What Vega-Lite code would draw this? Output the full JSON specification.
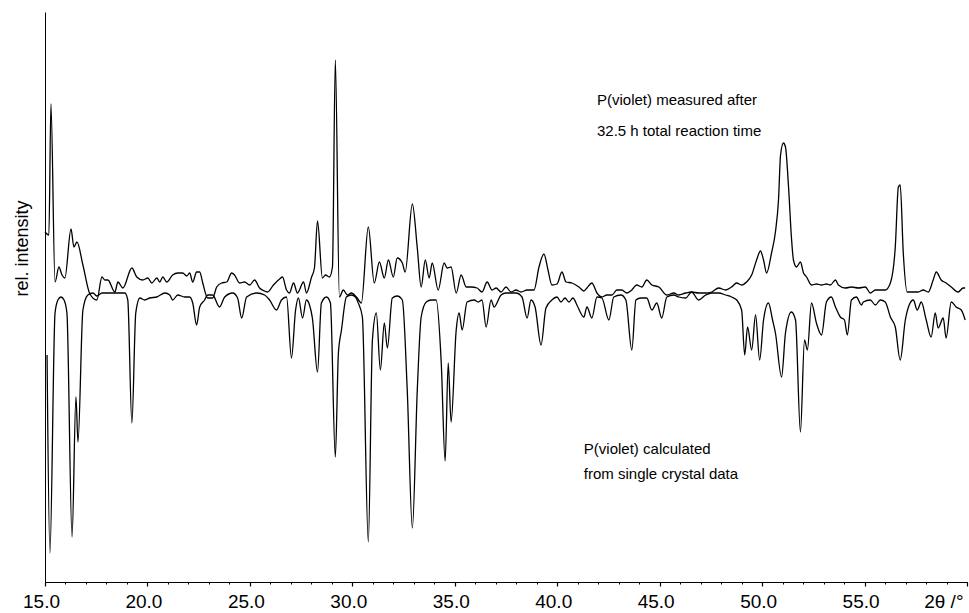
{
  "$schema": "https://vega.github.io/schema/vega-lite/v6.json",
  "width": 922,
  "height": 570,
  "autosize": {"type": "none"},
  "padding": {"left": 45, "top": 12, "right": 2, "bottom": 31},
  "background": "white",
  "config": {"view": {"stroke": null}, "font": "Liberation Sans"},
  "datasets": {
    "xrd": [
      {"series":"measured","x":15.00,"y":350},{"series":"measured","x":15.19,"y":347},{"series":"measured","x":15.29,"y":478},{"series":"measured","x":15.49,"y":300},{"series":"measured","x":15.68,"y":315},{"series":"measured","x":15.83,"y":307},{"series":"measured","x":15.97,"y":304},{"series":"measured","x":16.27,"y":353},{"series":"measured","x":16.41,"y":335},{"series":"measured","x":16.56,"y":340},{"series":"measured","x":16.85,"y":317},{"series":"measured","x":17.19,"y":288},{"series":"measured","x":17.53,"y":282},{"series":"measured","x":17.78,"y":305},{"series":"measured","x":17.92,"y":302},{"series":"measured","x":18.07,"y":302},{"series":"measured","x":18.41,"y":290},{"series":"measured","x":18.56,"y":300},{"series":"measured","x":18.80,"y":294},{"series":"measured","x":19.24,"y":314},{"series":"measured","x":19.48,"y":305},{"series":"measured","x":19.77,"y":302},{"series":"measured","x":20.02,"y":304},{"series":"measured","x":20.21,"y":299},{"series":"measured","x":20.46,"y":304},{"series":"measured","x":20.60,"y":300},{"series":"measured","x":20.75,"y":305},{"series":"measured","x":20.94,"y":300},{"series":"measured","x":21.23,"y":307},{"series":"measured","x":21.48,"y":309},{"series":"measured","x":21.72,"y":309},{"series":"measured","x":21.92,"y":306},{"series":"measured","x":22.06,"y":309},{"series":"measured","x":22.21,"y":300},{"series":"measured","x":22.40,"y":310},{"series":"measured","x":22.55,"y":310},{"series":"measured","x":22.70,"y":299},{"series":"measured","x":22.94,"y":284},{"series":"measured","x":23.18,"y":284},{"series":"measured","x":23.38,"y":295},{"series":"measured","x":23.62,"y":299},{"series":"measured","x":23.87,"y":300},{"series":"measured","x":24.11,"y":309},{"series":"measured","x":24.25,"y":307},{"series":"measured","x":24.50,"y":299},{"series":"measured","x":24.74,"y":300},{"series":"measured","x":24.99,"y":297},{"series":"measured","x":25.23,"y":302},{"series":"measured","x":25.47,"y":294},{"series":"measured","x":25.72,"y":291},{"series":"measured","x":25.86,"y":290},{"series":"measured","x":26.15,"y":297},{"series":"measured","x":26.45,"y":303},{"series":"measured","x":26.59,"y":305},{"series":"measured","x":26.79,"y":292},{"series":"measured","x":26.93,"y":289},{"series":"measured","x":27.13,"y":299},{"series":"measured","x":27.32,"y":289},{"series":"measured","x":27.62,"y":300},{"series":"measured","x":27.76,"y":289},{"series":"measured","x":28.01,"y":305},{"series":"measured","x":28.15,"y":314},{"series":"measured","x":28.30,"y":361},{"series":"measured","x":28.54,"y":304},{"series":"measured","x":28.69,"y":307},{"series":"measured","x":28.88,"y":305},{"series":"measured","x":29.03,"y":315},{"series":"measured","x":29.17,"y":522},{"series":"measured","x":29.37,"y":285},{"series":"measured","x":29.56,"y":292},{"series":"measured","x":29.76,"y":287},{"series":"measured","x":29.95,"y":289},{"series":"measured","x":30.20,"y":285},{"series":"measured","x":30.44,"y":279},{"series":"measured","x":30.78,"y":355},{"series":"measured","x":31.07,"y":299},{"series":"measured","x":31.32,"y":320},{"series":"measured","x":31.56,"y":304},{"series":"measured","x":31.76,"y":322},{"series":"measured","x":32.00,"y":305},{"series":"measured","x":32.19,"y":324},{"series":"measured","x":32.44,"y":319},{"series":"measured","x":32.58,"y":310},{"series":"measured","x":32.93,"y":378},{"series":"measured","x":33.17,"y":334},{"series":"measured","x":33.36,"y":295},{"series":"measured","x":33.56,"y":322},{"series":"measured","x":33.75,"y":304},{"series":"measured","x":33.90,"y":319},{"series":"measured","x":34.19,"y":292},{"series":"measured","x":34.48,"y":319},{"series":"measured","x":34.63,"y":314},{"series":"measured","x":34.82,"y":315},{"series":"measured","x":35.07,"y":289},{"series":"measured","x":35.31,"y":307},{"series":"measured","x":35.56,"y":295},{"series":"measured","x":35.80,"y":295},{"series":"measured","x":36.09,"y":294},{"series":"measured","x":36.33,"y":290},{"series":"measured","x":36.58,"y":300},{"series":"measured","x":36.82,"y":292},{"series":"measured","x":37.02,"y":294},{"series":"measured","x":37.26,"y":290},{"series":"measured","x":37.50,"y":295},{"series":"measured","x":37.75,"y":290},{"series":"measured","x":37.99,"y":292},{"series":"measured","x":38.23,"y":290},{"series":"measured","x":38.53,"y":292},{"series":"measured","x":38.87,"y":292},{"series":"measured","x":39.11,"y":315},{"series":"measured","x":39.35,"y":328},{"series":"measured","x":39.55,"y":312},{"series":"measured","x":39.74,"y":297},{"series":"measured","x":39.99,"y":298},{"series":"measured","x":40.23,"y":310},{"series":"measured","x":40.43,"y":300},{"series":"measured","x":40.72,"y":299},{"series":"measured","x":41.06,"y":295},{"series":"measured","x":41.30,"y":291},{"series":"measured","x":41.45,"y":294},{"series":"measured","x":41.69,"y":299},{"series":"measured","x":41.94,"y":289},{"series":"measured","x":42.18,"y":285},{"series":"measured","x":42.42,"y":287},{"series":"measured","x":42.67,"y":287},{"series":"measured","x":42.91,"y":292},{"series":"measured","x":43.15,"y":292},{"series":"measured","x":43.40,"y":289},{"series":"measured","x":43.64,"y":292},{"series":"measured","x":43.88,"y":297},{"series":"measured","x":44.13,"y":295},{"series":"measured","x":44.37,"y":302},{"series":"measured","x":44.62,"y":297},{"series":"measured","x":44.96,"y":295},{"series":"measured","x":45.35,"y":287},{"series":"measured","x":45.69,"y":289},{"series":"measured","x":45.93,"y":287},{"series":"measured","x":46.27,"y":289},{"series":"measured","x":46.56,"y":290},{"series":"measured","x":46.90,"y":289},{"series":"measured","x":47.25,"y":289},{"series":"measured","x":47.54,"y":290},{"series":"measured","x":47.88,"y":294},{"series":"measured","x":48.22,"y":292},{"series":"measured","x":48.51,"y":295},{"series":"measured","x":48.76,"y":299},{"series":"measured","x":49.00,"y":297},{"series":"measured","x":49.24,"y":300},{"series":"measured","x":49.49,"y":307},{"series":"measured","x":49.73,"y":322},{"series":"measured","x":49.92,"y":331},{"series":"measured","x":50.07,"y":322},{"series":"measured","x":50.22,"y":309},{"series":"measured","x":50.46,"y":329},{"series":"measured","x":50.65,"y":350},{"series":"measured","x":50.80,"y":382},{"series":"measured","x":50.90,"y":427},{"series":"measured","x":51.04,"y":439},{"series":"measured","x":51.14,"y":435},{"series":"measured","x":51.29,"y":395},{"series":"measured","x":51.43,"y":345},{"series":"measured","x":51.53,"y":322},{"series":"measured","x":51.68,"y":315},{"series":"measured","x":51.87,"y":320},{"series":"measured","x":52.02,"y":309},{"series":"measured","x":52.17,"y":305},{"series":"measured","x":52.41,"y":297},{"series":"measured","x":52.65,"y":298},{"series":"measured","x":52.90,"y":297},{"series":"measured","x":53.14,"y":298},{"series":"measured","x":53.33,"y":297},{"series":"measured","x":53.58,"y":302},{"series":"measured","x":53.72,"y":297},{"series":"measured","x":54.06,"y":294},{"series":"measured","x":54.36,"y":295},{"series":"measured","x":54.70,"y":294},{"series":"measured","x":55.04,"y":295},{"series":"measured","x":55.28,"y":289},{"series":"measured","x":55.53,"y":292},{"series":"measured","x":55.77,"y":292},{"series":"measured","x":56.01,"y":292},{"series":"measured","x":56.26,"y":299},{"series":"measured","x":56.50,"y":335},{"series":"measured","x":56.65,"y":395},{"series":"measured","x":56.74,"y":397},{"series":"measured","x":56.89,"y":329},{"series":"measured","x":57.08,"y":290},{"series":"measured","x":57.28,"y":290},{"series":"measured","x":57.62,"y":290},{"series":"measured","x":57.86,"y":292},{"series":"measured","x":58.11,"y":290},{"series":"measured","x":58.35,"y":302},{"series":"measured","x":58.50,"y":310},{"series":"measured","x":58.74,"y":302},{"series":"measured","x":58.98,"y":299},{"series":"measured","x":59.23,"y":295},{"series":"measured","x":59.57,"y":290},{"series":"measured","x":59.81,"y":294},{"series":"measured","x":59.91,"y":294},
      {"series":"calculated","x":15.10,"y":227},{"series":"calculated","x":15.24,"y":29},{"series":"calculated","x":15.49,"y":269},{"series":"calculated","x":15.63,"y":282},{"series":"calculated","x":15.78,"y":285},{"series":"calculated","x":15.93,"y":282},{"series":"calculated","x":16.07,"y":269},{"series":"calculated","x":16.32,"y":45},{"series":"calculated","x":16.51,"y":185},{"series":"calculated","x":16.61,"y":140},{"series":"calculated","x":16.85,"y":272},{"series":"calculated","x":17.09,"y":287},{"series":"calculated","x":17.34,"y":289},{"series":"calculated","x":17.53,"y":286},{"series":"calculated","x":17.78,"y":289},{"series":"calculated","x":18.17,"y":289},{"series":"calculated","x":18.56,"y":289},{"series":"calculated","x":18.90,"y":289},{"series":"calculated","x":19.04,"y":282},{"series":"calculated","x":19.24,"y":159},{"series":"calculated","x":19.43,"y":269},{"series":"calculated","x":19.63,"y":284},{"series":"calculated","x":19.87,"y":282},{"series":"calculated","x":20.11,"y":284},{"series":"calculated","x":20.46,"y":285},{"series":"calculated","x":20.85,"y":289},{"series":"calculated","x":21.09,"y":287},{"series":"calculated","x":21.23,"y":282},{"series":"calculated","x":21.48,"y":287},{"series":"calculated","x":21.82,"y":285},{"series":"calculated","x":22.06,"y":285},{"series":"calculated","x":22.21,"y":279},{"series":"calculated","x":22.40,"y":257},{"series":"calculated","x":22.55,"y":275},{"series":"calculated","x":22.79,"y":282},{"series":"calculated","x":22.94,"y":287},{"series":"calculated","x":23.18,"y":287},{"series":"calculated","x":23.52,"y":275},{"series":"calculated","x":23.77,"y":285},{"series":"calculated","x":24.16,"y":289},{"series":"calculated","x":24.40,"y":284},{"series":"calculated","x":24.60,"y":264},{"series":"calculated","x":24.84,"y":285},{"series":"calculated","x":25.33,"y":289},{"series":"calculated","x":25.72,"y":287},{"series":"calculated","x":25.96,"y":282},{"series":"calculated","x":26.30,"y":272},{"series":"calculated","x":26.54,"y":282},{"series":"calculated","x":26.79,"y":285},{"series":"calculated","x":27.03,"y":224},{"series":"calculated","x":27.23,"y":272},{"series":"calculated","x":27.37,"y":284},{"series":"calculated","x":27.57,"y":264},{"series":"calculated","x":27.76,"y":282},{"series":"calculated","x":27.91,"y":277},{"series":"calculated","x":28.05,"y":264},{"series":"calculated","x":28.30,"y":210},{"series":"calculated","x":28.49,"y":279},{"series":"calculated","x":28.74,"y":285},{"series":"calculated","x":28.93,"y":279},{"series":"calculated","x":29.17,"y":125},{"series":"calculated","x":29.32,"y":229},{"series":"calculated","x":29.47,"y":252},{"series":"calculated","x":29.71,"y":285},{"series":"calculated","x":29.95,"y":287},{"series":"calculated","x":30.15,"y":285},{"series":"calculated","x":30.29,"y":279},{"series":"calculated","x":30.49,"y":265},{"series":"calculated","x":30.78,"y":40},{"series":"calculated","x":30.98,"y":242},{"series":"calculated","x":31.17,"y":269},{"series":"calculated","x":31.37,"y":212},{"series":"calculated","x":31.56,"y":259},{"series":"calculated","x":31.71,"y":234},{"series":"calculated","x":31.95,"y":284},{"series":"calculated","x":32.19,"y":286},{"series":"calculated","x":32.44,"y":282},{"series":"calculated","x":32.68,"y":192},{"series":"calculated","x":32.93,"y":54},{"series":"calculated","x":33.17,"y":192},{"series":"calculated","x":33.36,"y":265},{"series":"calculated","x":33.61,"y":280},{"series":"calculated","x":33.85,"y":282},{"series":"calculated","x":34.09,"y":282},{"series":"calculated","x":34.34,"y":219},{"series":"calculated","x":34.53,"y":121},{"series":"calculated","x":34.68,"y":219},{"series":"calculated","x":34.82,"y":160},{"series":"calculated","x":35.07,"y":252},{"series":"calculated","x":35.21,"y":269},{"series":"calculated","x":35.36,"y":252},{"series":"calculated","x":35.60,"y":280},{"series":"calculated","x":35.95,"y":282},{"series":"calculated","x":36.14,"y":280},{"series":"calculated","x":36.33,"y":282},{"series":"calculated","x":36.53,"y":255},{"series":"calculated","x":36.77,"y":282},{"series":"calculated","x":36.92,"y":275},{"series":"calculated","x":37.26,"y":287},{"series":"calculated","x":37.50,"y":289},{"series":"calculated","x":37.99,"y":289},{"series":"calculated","x":38.28,"y":285},{"series":"calculated","x":38.53,"y":264},{"series":"calculated","x":38.72,"y":282},{"series":"calculated","x":38.92,"y":275},{"series":"calculated","x":39.21,"y":237},{"series":"calculated","x":39.45,"y":274},{"series":"calculated","x":39.74,"y":282},{"series":"calculated","x":39.99,"y":285},{"series":"calculated","x":40.18,"y":280},{"series":"calculated","x":40.38,"y":284},{"series":"calculated","x":40.57,"y":280},{"series":"calculated","x":40.77,"y":284},{"series":"calculated","x":40.96,"y":277},{"series":"calculated","x":41.30,"y":265},{"series":"calculated","x":41.45,"y":275},{"series":"calculated","x":41.69,"y":264},{"series":"calculated","x":41.94,"y":285},{"series":"calculated","x":42.18,"y":284},{"series":"calculated","x":42.52,"y":262},{"series":"calculated","x":42.76,"y":285},{"series":"calculated","x":43.11,"y":287},{"series":"calculated","x":43.35,"y":282},{"series":"calculated","x":43.64,"y":232},{"series":"calculated","x":43.84,"y":282},{"series":"calculated","x":44.08,"y":284},{"series":"calculated","x":44.37,"y":284},{"series":"calculated","x":44.62,"y":272},{"series":"calculated","x":44.86,"y":279},{"series":"calculated","x":45.10,"y":264},{"series":"calculated","x":45.35,"y":285},{"series":"calculated","x":45.69,"y":287},{"series":"calculated","x":45.93,"y":285},{"series":"calculated","x":46.27,"y":284},{"series":"calculated","x":46.56,"y":290},{"series":"calculated","x":46.90,"y":282},{"series":"calculated","x":47.25,"y":287},{"series":"calculated","x":47.54,"y":289},{"series":"calculated","x":47.88,"y":289},{"series":"calculated","x":48.22,"y":287},{"series":"calculated","x":48.51,"y":285},{"series":"calculated","x":48.76,"y":282},{"series":"calculated","x":49.00,"y":272},{"series":"calculated","x":49.15,"y":227},{"series":"calculated","x":49.29,"y":255},{"series":"calculated","x":49.49,"y":232},{"series":"calculated","x":49.68,"y":267},{"series":"calculated","x":49.88,"y":222},{"series":"calculated","x":50.07,"y":262},{"series":"calculated","x":50.31,"y":279},{"series":"calculated","x":50.51,"y":262},{"series":"calculated","x":50.65,"y":249},{"series":"calculated","x":50.95,"y":205},{"series":"calculated","x":51.14,"y":249},{"series":"calculated","x":51.43,"y":270},{"series":"calculated","x":51.63,"y":262},{"series":"calculated","x":51.87,"y":150},{"series":"calculated","x":52.07,"y":242},{"series":"calculated","x":52.21,"y":232},{"series":"calculated","x":52.41,"y":279},{"series":"calculated","x":52.65,"y":259},{"series":"calculated","x":52.90,"y":247},{"series":"calculated","x":53.14,"y":280},{"series":"calculated","x":53.38,"y":285},{"series":"calculated","x":53.58,"y":275},{"series":"calculated","x":53.82,"y":265},{"series":"calculated","x":54.02,"y":262},{"series":"calculated","x":54.16,"y":247},{"series":"calculated","x":54.36,"y":282},{"series":"calculated","x":54.60,"y":285},{"series":"calculated","x":54.85,"y":277},{"series":"calculated","x":54.94,"y":280},{"series":"calculated","x":55.28,"y":282},{"series":"calculated","x":55.53,"y":277},{"series":"calculated","x":55.77,"y":282},{"series":"calculated","x":56.01,"y":280},{"series":"calculated","x":56.26,"y":265},{"series":"calculated","x":56.50,"y":255},{"series":"calculated","x":56.74,"y":222},{"series":"calculated","x":56.99,"y":262},{"series":"calculated","x":57.18,"y":277},{"series":"calculated","x":57.38,"y":282},{"series":"calculated","x":57.57,"y":272},{"series":"calculated","x":57.77,"y":280},{"series":"calculated","x":58.01,"y":262},{"series":"calculated","x":58.25,"y":245},{"series":"calculated","x":58.45,"y":269},{"series":"calculated","x":58.59,"y":254},{"series":"calculated","x":58.84,"y":264},{"series":"calculated","x":58.98,"y":244},{"series":"calculated","x":59.23,"y":280},{"series":"calculated","x":59.47,"y":275},{"series":"calculated","x":59.72,"y":272},{"series":"calculated","x":59.91,"y":262}
    ],
    "notes": [
      {"x": 41.94, "y": 482, "text": "P(violet) measured after"},
      {"x": 41.94, "y": 451, "text": "32.5 h total reaction time"},
      {"x": 41.30, "y": 133, "text": "P(violet) calculated"},
      {"x": 41.30, "y": 108, "text": "from single crystal data"}
    ]
  },
  "layer": [
    {
      "data": {"name": "xrd"},
      "mark": {"type": "line", "color": "black", "strokeWidth": 1.3, "interpolate": "monotone"},
      "encoding": {
        "x": {
          "field": "x", "type": "quantitative",
          "scale": {"domain": [15, 60], "nice": false, "zero": false},
          "axis": {
            "title": null, "grid": false,
            "values": [15, 20, 25, 30, 35, 40, 45, 50, 55, 60],
            "labelExpr": "datum.value == 60 ? '2θ /°' : format(datum.value, '.1f')",
            "labelAlign": {"condition": {"test": "datum.value == 60", "value": "right"}, "value": "center"},
            "labelOffset": -4,
            "labelFontSize": 19, "labelColor": "black", "labelFont": "Liberation Sans",
            "labelPadding": 6, "labelOverlap": false, "labelFlush": false,
            "domainColor": "black", "tickColor": "black", "tickSize": 4, "tickWidth": 1.2
          }
        },
        "y": {
          "field": "y", "type": "quantitative",
          "scale": {"domain": [0, 570], "nice": false, "zero": false},
          "axis": {
            "grid": false, "ticks": false, "labels": false, "domainColor": "black",
            "title": "rel. intensity", "titleFontSize": 18, "titleFontWeight": "normal",
            "titleColor": "black", "titleFont": "Liberation Sans",
            "titleX": -18, "titleY": 236, "titleBaseline": "alphabetic", "titleAngle": -90
          }
        },
        "detail": {"field": "series", "type": "nominal"}
      }
    },
    {
      "data": {"name": "notes"},
      "mark": {"type": "text", "align": "left", "baseline": "middle", "fontSize": 15, "font": "Liberation Sans", "color": "black"},
      "encoding": {
        "x": {
          "field": "x", "type": "quantitative",
          "scale": {"domain": [15, 60], "nice": false, "zero": false},
          "axis": {
            "orient": "bottom", "title": null, "grid": false, "labels": false, "domain": false,
            "values": [15,16,17,18,19,20,21,22,23,24,25,26,27,28,29,30,31,32,33,34,35,36,37,38,39,40,41,42,43,44,45,46,47,48,49,50,51,52,53,54,55,56,57,58,59,60],
            "tickColor": "black", "tickSize": 2, "tickWidth": 1
          }
        },
        "y": {"field": "y", "type": "quantitative", "scale": {"domain": [0, 570], "nice": false, "zero": false}, "axis": null},
        "text": {"field": "text", "type": "nominal"}
      }
    }
  ],
  "resolve": {"axis": {"x": "independent", "y": "independent"}}
}
